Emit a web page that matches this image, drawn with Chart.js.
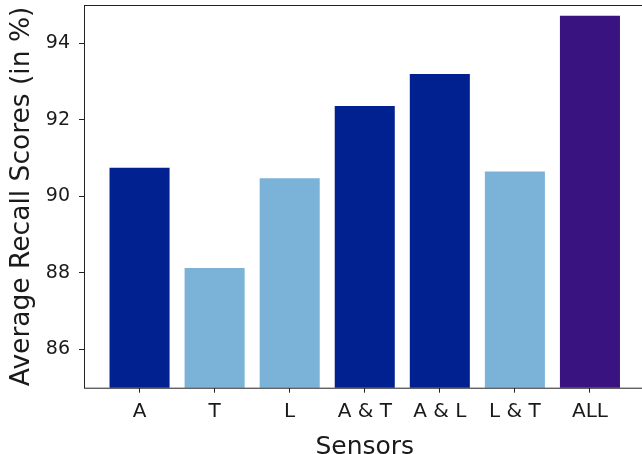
<!DOCTYPE html>
<html>
<head>
<meta charset="utf-8">
<script src="https://cdn.jsdelivr.net/npm/chart.js@4/dist/chart.umd.min.js"></script>
<style>
  html, body { margin: 0; padding: 0; background: #fff; overflow: hidden; }
  #wrap { width: 700px; height: 454px; }
</style>
</head>
<body>
<div id="wrap"><canvas id="myChart"></canvas></div>
<script>
// Data
let sensors = ['A', 'T', 'L', 'A & T', 'A & L', 'L & T', 'ALL'];
let recall = [90.75, 88.13, 90.47, 92.36, 93.2, 90.65, 94.72];
let barColors = ['#022190', '#7bb2d7', '#7bb2d7', '#022190', '#022190', '#7bb2d7', '#39137f'];
let yTicks = [86, 88, 90, 92, 94];

Chart.defaults.font.family = 'DejaVu Sans';
Chart.defaults.color = '#1a1a1a';

// frame round the plot (matplotlib spines)
const framePlugin = {
  id: 'frame',
  afterDraw(chart) {
    const a = chart.chartArea;
    const ctx = chart.ctx;
    ctx.save();
    ctx.strokeStyle = '#222';
    ctx.lineWidth = 1;
    ctx.strokeRect(a.left + 0.5, a.top + 0.5, a.right - a.left, a.bottom - a.top);
    ctx.restore();
  }
};

const dataChart = {
  datasets: [{
    data: sensors.map((s, i) => ({x: i, y: recall[i]})),
    backgroundColor: barColors,
    barPercentage: 0.8,
    categoryPercentage: 1.0
  }]
};

const config = {
  type: 'bar',
  data: dataChart,
  options: {
    responsive: true,
    maintainAspectRatio: false,
    animation: false,
    layout: { padding: { left: 0, right: 54.5, top: 5, bottom: 0 } },
    plugins: { legend: { display: false }, tooltip: { enabled: false } },
    scales: {
      x: {
        type: 'linear',
        min: -0.74,
        max: 6.74,
        offset: false,
        afterBuildTicks: axis => { axis.ticks = sensors.map((s, i) => ({value: i})); },
        afterFit: axis => { axis.height = 66.3; axis.paddingLeft = 0; axis.paddingRight = 0; },
        ticks: {
          font: { size: 20 },
          padding: 7,
          maxRotation: 0,
          callback: v => sensors[v]
        },
        grid: { drawOnChartArea: false, offset: false, tickLength: 5, tickColor: '#222' },
        border: { display: false },
        title: { display: true, text: 'Sensors', font: { size: 25 }, padding: { top: 0, bottom: -8 } }
      },
      y: {
        min: 85,
        max: 95,
        afterBuildTicks: axis => { axis.ticks = yTicks.map(v => ({value: v})); },
        afterFit: axis => { axis.width = 84; axis.paddingTop = 0; axis.paddingBottom = 0; },
        ticks: { font: { size: 19 }, padding: 9 },
        grid: { drawOnChartArea: false, tickLength: 5, tickColor: '#222' },
        border: { display: false },
        title: { display: true, text: 'Average Recall Scores (in %)', font: { size: 26.5 }, padding: { top: 6, bottom: 0 } }
      }
    }
  },
  plugins: [framePlugin]
};

let myChart = new Chart(document.getElementById('myChart'), config);
</script>
</body>
</html>
